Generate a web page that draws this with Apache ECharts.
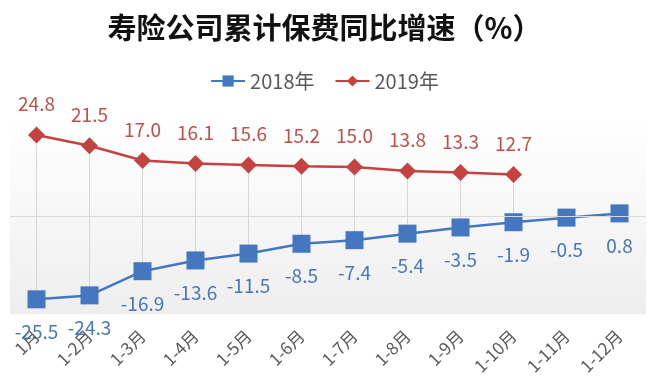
<!DOCTYPE html>
<html><head><meta charset="utf-8">
<script src="https://cdn.jsdelivr.net/npm/echarts@6/dist/echarts.min.js"></script>
<style>html,body{margin:0;padding:0;background:#fff}#c{width:649px;height:381px}</style>
</head><body><div id="c"></div>
<script>
const categories = ['1月','1-2月','1-3月','1-4月','1-5月','1-6月','1-7月','1-8月','1-9月','1-10月','1-11月','1-12月'];
const s2018 = [-25.5,-24.3,-16.9,-13.6,-11.5,-8.5,-7.4,-5.4,-3.5,-1.9,-0.5,0.8];
const s2019 = [24.8,21.5,17.0,16.1,15.6,15.2,15.0,13.8,13.3,12.7,null,null];
const titleText = '寿险公司累计保费同比增速（%）';

const hiLo = [];
categories.forEach((c,i)=>{ if (s2019[i]!=null && s2018[i]!=null) hiLo.push([i, s2019[i], s2018[i]]); });

const FONT = '"Noto Sans CJK SC","Noto Sans",sans-serif';
const chart = echarts.init(document.getElementById('c'));
chart.setOption({
  animation:false,
  title:{text:titleText,left:'center',top:8,textStyle:{fontFamily:FONT,fontSize:29,fontWeight:'bold',color:'#111'}},
  legend:{top:66,left:'center',itemWidth:34,itemHeight:14,itemGap:20,
    textStyle:{fontFamily:FONT,fontSize:20,color:'#595959'},
    data:['2018年','2019年']},
  grid:{left:10,right:3,top:118,bottom:67,show:true,borderWidth:0,
    backgroundColor:new echarts.graphic.LinearGradient(0,0,0,1,[{offset:0,color:'#ffffff'},{offset:1,color:'#eeeeef'}])},
  xAxis:{type:'category',data:categories,boundaryGap:true,
    axisLine:{show:false,onZero:false},axisTick:{show:false},
    axisLabel:{rotate:45,margin:19,fontFamily:FONT,fontSize:17,color:'#595959',interval:0}},
  yAxis:{type:'value',min:-30,max:30,show:false,splitLine:{show:false}},
  series:[
    {type:'custom',name:'hilo',silent:true,z:1,
     renderItem:function(params,api){
       const a=api.coord([api.value(0),api.value(1)]);
       const b=api.coord([api.value(0),api.value(2)]);
       return {type:'line',shape:{x1:a[0],y1:a[1],x2:b[0],y2:b[1]},style:{stroke:'#d6d6d6',lineWidth:1}};
     },
     encode:{x:0,y:[1,2]},data:hiLo},
    {type:'line',name:'2018年',data:s2018,z:3,symbol:'rect',symbolSize:18,
     lineStyle:{color:'#4477C0',width:2.5},itemStyle:{color:'#4477C0'},
     label:{show:true,position:'bottom',distance:14,formatter:p=>p.value.toFixed(1),
       fontFamily:FONT,fontSize:19,color:'#4A76B8'},
     markLine:{silent:true,symbol:'none',label:{show:false},
       lineStyle:{color:'#d9d9d9',width:1,type:'solid'},data:[{yAxis:0}]}},
    {type:'line',name:'2019年',data:s2019,z:3,symbol:'diamond',symbolSize:17,
     lineStyle:{color:'#C4423F',width:2.5},itemStyle:{color:'#C4423F'},
     label:{show:true,position:'top',distance:13,formatter:p=>p.value.toFixed(1),
       fontFamily:FONT,fontSize:19,color:'#C0504D'}}
  ]
});
</script></body></html>
